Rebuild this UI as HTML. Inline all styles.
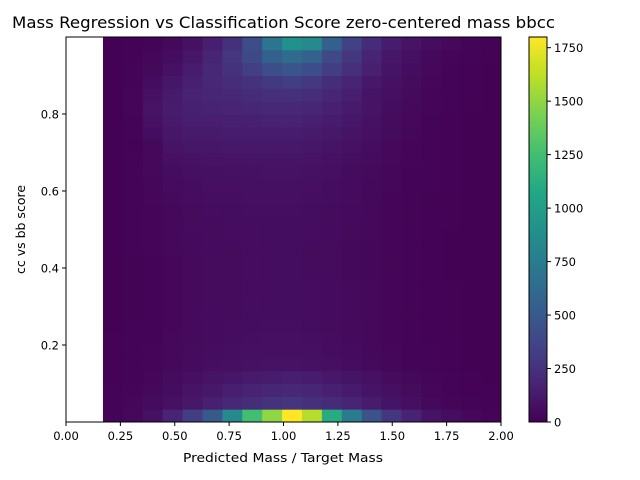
<!DOCTYPE html>
<html><head><meta charset="utf-8">
<style>
body{margin:0;background:#fff;}
svg{display:block;font-family:"DejaVu Sans","Liberation Sans",sans-serif;}
</style></head>
<body>
<svg id="chart" width="640" height="480">
</svg>
<script>
// ---- data ----
const xEdgeStart = 0.17, xEdgeEnd = 2.0;
const yEdgeStart = 0, yEdgeEnd = 1.0;
const nRows = 30;
const colorMax = 1800;
const xTickLabels = ["0.00","0.25","0.50","0.75","1.00","1.25","1.50","1.75","2.00"];
const xTickValues = [0,0.25,0.5,0.75,1.0,1.25,1.5,1.75,2.0];
const yTickLabels = ["0.2","0.4","0.6","0.8"];
const yTickValues = [0.2,0.4,0.6,0.8];
const cbTickValues = [0,250,500,750,1000,1250,1500,1750];
// rows from bottom (score 0) to top (score 1), 20 mass bins each
const countRows = [
"20 40 80 180 320 500 850 1250 1500 1800 1600 1100 750 450 280 170 100 60 35 20",
"20 30 50 80 120 160 200 230 260 270 250 220 180 140 100 70 40 25 15 10",
"15 25 40 60 90 120 150 170 190 200 190 160 130 100 70 50 30 20 12 8",
"10 20 30 50 70 90 110 130 140 150 140 120 100 80 55 40 25 15 10 6",
"8 15 25 40 55 65 75 80 85 85 80 70 60 45 32 22 15 10 6 4",
"8 15 25 35 50 60 65 70 75 75 70 62 52 40 30 20 14 9 6 4",
"8 14 22 35 45 55 60 65 70 70 65 58 48 38 28 20 13 9 5 4",
"7 14 22 33 45 52 58 62 66 66 62 55 46 36 26 18 12 8 5 3",
"7 13 22 33 44 52 56 60 64 64 60 53 45 35 25 18 12 8 5 3",
"7 13 22 33 44 50 55 58 62 62 58 52 44 34 25 17 11 8 5 3",
"7 13 22 33 44 50 55 58 62 62 58 52 44 34 25 17 11 8 5 3",
"7 13 22 33 44 50 55 58 60 60 56 50 42 33 24 17 11 7 5 3",
"7 13 22 33 44 50 55 58 60 60 56 50 42 33 24 17 11 7 5 3",
"7 14 23 34 45 52 56 58 60 60 56 50 42 33 24 17 11 7 5 3",
"7 14 24 36 47 54 58 60 62 62 58 52 44 34 25 17 11 7 5 3",
"7 15 26 38 50 57 60 62 64 64 60 54 46 35 26 18 12 8 5 3",
"7 16 28 42 54 60 64 66 68 68 64 56 48 37 27 19 12 8 5 3",
"6 16 30 46 58 65 68 70 72 72 68 60 50 39 28 20 13 8 5 3",
"6 16 32 52 64 70 74 76 78 78 73 64 53 41 30 21 14 9 5 3",
"6 16 35 60 72 78 82 84 86 86 80 70 57 44 32 22 15 9 5 3",
"5 15 38 70 85 90 95 96 98 98 92 80 65 50 36 24 16 10 6 3",
"5 12 40 90 110 110 120 120 120 120 110 100 80 60 40 25 16 9 5 3",
"5 15 60 110 130 130 140 140 140 140 130 120 95 70 50 30 20 10 6 3",
"5 20 80 130 150 150 160 160 170 170 160 140 110 80 55 35 22 12 7 4",
"5 25 90 140 160 170 180 190 200 200 190 160 130 90 60 40 25 14 8 4",
"5 25 80 130 170 190 200 220 240 250 230 190 150 100 70 45 28 15 8 5",
"5 20 60 110 160 200 230 260 300 320 290 230 180 120 80 50 30 18 10 5",
"5 15 40 80 140 200 260 330 420 470 420 320 240 160 100 60 35 20 12 6",
"5 10 30 60 110 180 280 400 550 620 560 400 280 180 110 70 40 25 15 8",
"5 10 20 40 80 150 250 420 700 900 850 550 350 220 140 90 60 35 20 10"
];

// ---- layout ----
const L=66,R=501,T=37,B=422;
const CBL=529,CBR=547;
const xs=v=>L+(v-0)/(2.0-0)*(R-L);
const ys=v=>B-(v-0)/(1.0-0)*(B-T);
const cs=v=>B-v/colorMax*(B-T);
const NS="http://www.w3.org/2000/svg";
const svg=document.getElementById('chart');
function mk(tag,attrs,parent){const e=document.createElementNS(NS,tag);for(const k in attrs)e.setAttribute(k,attrs[k]);(parent||svg).appendChild(e);return e;}

const vir=[[68,1,84],[72,36,117],[65,68,135],[53,95,141],[42,120,142],[33,145,140],[34,168,132],[68,191,112],[122,209,81],[189,223,38],[253,231,37]];
function viridis(t){t=Math.max(0,Math.min(1,t));const p=t*(vir.length-1);const i=Math.min(vir.length-2,Math.floor(p));const f=p-i;const a=vir[i],b=vir[i+1];return `rgb(${Math.round(a[0]+(b[0]-a[0])*f)},${Math.round(a[1]+(b[1]-a[1])*f)},${Math.round(a[2]+(b[2]-a[2])*f)})`;}

// cells
const cellsG=mk('g',{});


const rowH=(yEdgeEnd-yEdgeStart)/nRows;
countRows.forEach((rowStr,r)=>{
  const vals=rowStr.trim().split(/\s+/).map(Number);
  const colW=(xEdgeEnd-xEdgeStart)/vals.length;
  vals.forEach((v,c)=>{
    const x0=xs(xEdgeStart+c*colW),x1=xs(xEdgeStart+(c+1)*colW);
    const y1=ys(yEdgeStart+r*rowH),y0=ys(yEdgeStart+(r+1)*rowH);
    const rect=mk('rect',{x:x0,y:y0,width:x1-x0+0.5,height:y1-y0+0.5,fill:viridis(v/colorMax)},cellsG);
    
    
  });
});

// axes frame
const frame=mk('rect',{x:L,y:T,width:R-L,height:B-T,fill:'none',stroke:'#000','stroke-width':1});



xTickValues.forEach((v,i)=>{
  const x=xs(v);
  const t=mk('line',{x1:x,x2:x,y1:B,y2:B+4,stroke:'#000'});
  
  
  const tx=mk('text',{x:x,y:B+18,'font-size':11.5,'text-anchor':'middle'});
  tx.textContent=xTickLabels[i];
  
  
});
yTickValues.forEach((v,i)=>{
  const y=ys(v);
  const t=mk('line',{x1:L-4,x2:L,y1:y,y2:y,stroke:'#000'});
  
  
  const tx=mk('text',{x:L-7,y:y+4.5,'font-size':11.5,'text-anchor':'end'});
  tx.textContent=yTickLabels[i];
  
  
});

// colorbar
const defs=mk('defs',{});
const grad=mk('linearGradient',{id:'cb',x1:0,y1:1,x2:0,y2:0},defs);
for(let i=0;i<=20;i++){mk('stop',{offset:i/20,'stop-color':viridis(i/20)},grad);}
const cb=mk('rect',{x:CBL,y:T,width:CBR-CBL,height:B-T,fill:'url(#cb)',stroke:'#000','stroke-width':1});


cbTickValues.forEach(v=>{
  const y=cs(v);
  const t=mk('line',{x1:CBR,x2:CBR+4,y1:y,y2:y,stroke:'#000'});
  
  
  const tx=mk('text',{x:CBR+7,y:y+4.5,'font-size':11.5});
  tx.textContent=String(v);
  
  
});

// titles
const title=mk('text',{x:12,y:28,'font-size':16,textLength:543,lengthAdjust:'spacingAndGlyphs'});
title.textContent='Mass Regression vs Classification Score zero-centered mass bbcc';


const xl=mk('text',{x:183,y:462,'font-size':12.5,textLength:200,lengthAdjust:'spacingAndGlyphs'});
xl.textContent='Predicted Mass / Target Mass';


const yl=mk('text',{x:0,y:0,'font-size':12.5,'text-anchor':'middle',transform:'translate(25,229.5) rotate(-90)'});
yl.textContent='cc vs bb score';


</script>
</body></html>
